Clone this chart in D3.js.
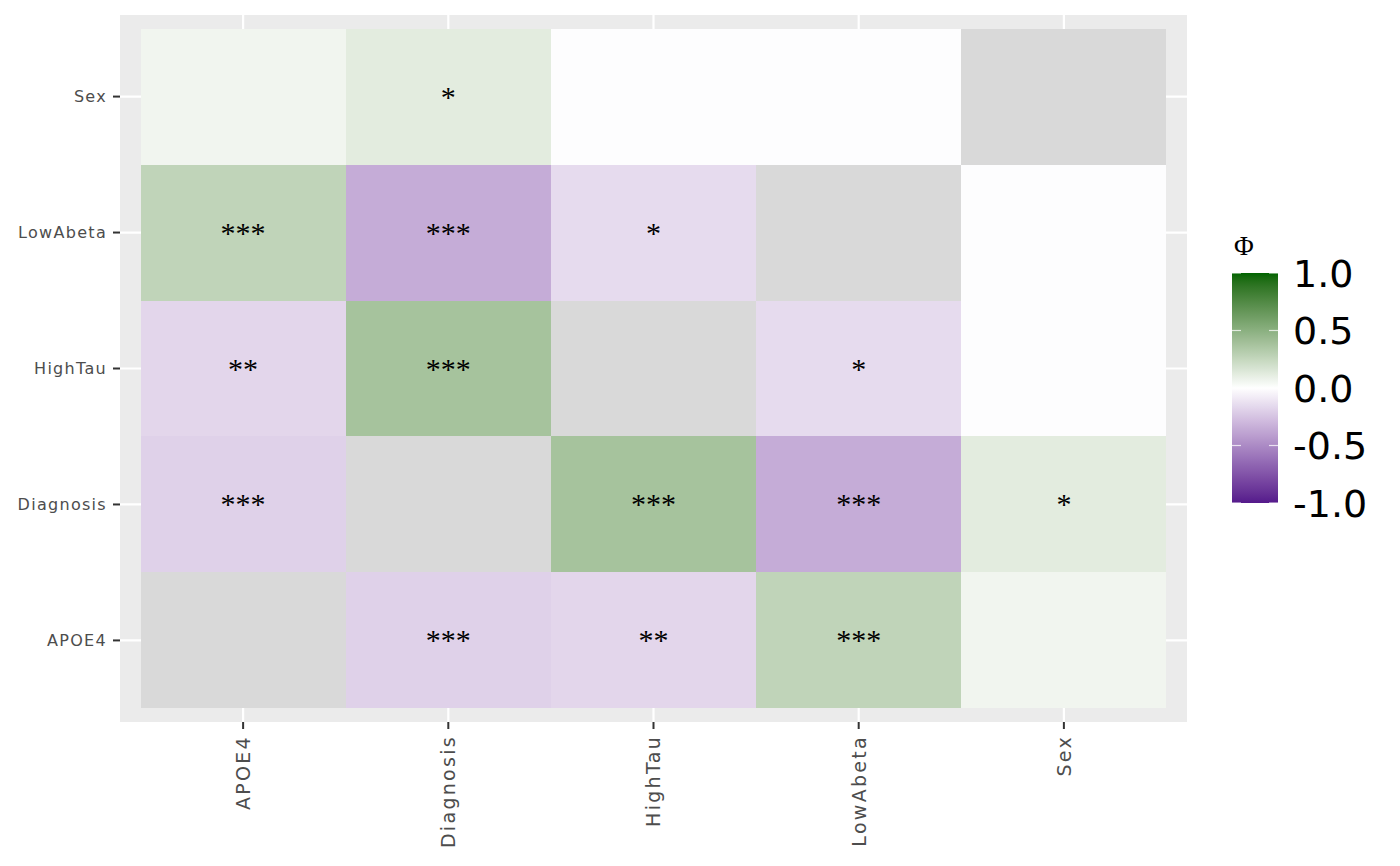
<!DOCTYPE html>
<html>
<head>
<meta charset="utf-8">
<script src="https://cdn.jsdelivr.net/npm/d3@7"></script>
<style>
  html, body { margin: 0; padding: 0; background: #ffffff; }
  svg { display: block; }
</style>
</head>
<body>
<svg id="chart" width="1400" height="866"></svg>
<script>
// ---- data ----
const variables = ["APOE4", "Diagnosis", "HighTau", "LowAbeta", "Sex"];
// phi coefficients, row = y variable, column = x variable (null on diagonal)
const phiAPOE4     = [null, -0.19, -0.17,  0.27,  0.06];
const phiDiagnosis = [-0.19, null,  0.38, -0.35,  0.12];
const phiHighTau   = [-0.17, 0.38,  null, -0.15, -0.01];
const phiLowAbeta  = [ 0.27, -0.35, -0.15, null, -0.01];
const phiSex       = [ 0.06,  0.12, -0.01, -0.01, null];
const sigAPOE4     = ["", "***", "**", "***", ""];
const sigDiagnosis = ["***", "", "***", "***", "*"];
const sigHighTau   = ["**", "***", "", "*", ""];
const sigLowAbeta  = ["***", "***", "*", "", ""];
const sigSex       = ["", "*", "", "", ""];
const legendTicks = [-1.0, -0.5, 0.0, 0.5, 1.0];
const legendTitle = "Φ";

const phiRows = { APOE4: phiAPOE4, Diagnosis: phiDiagnosis, HighTau: phiHighTau, LowAbeta: phiLowAbeta, Sex: phiSex };
const sigRows = { APOE4: sigAPOE4, Diagnosis: sigDiagnosis, HighTau: sigHighTau, LowAbeta: sigLowAbeta, Sex: sigSex };

const cells = [];
variables.forEach(yv => {
  variables.forEach((xv, j) => {
    cells.push({ x: xv, y: yv, value: phiRows[yv][j], sig: sigRows[yv][j] });
  });
});

// ---- layout ----
const svg = d3.select("#chart");
const panel = { left: 120, right: 1187, top: 15, bottom: 722 };

const x = d3.scaleBand().domain(variables)
  .range([panel.left, panel.right]).paddingInner(0).paddingOuter(0.1);
const y = d3.scaleBand().domain(variables.slice().reverse())
  .range([panel.top, panel.bottom]).paddingInner(0).paddingOuter(0.1);

const color = d3.scaleLinear().domain([-1, 0, 1])
  .range(["#551A8B", "#ffffff", "#006400"])
  .interpolate(d3.interpolateLab);
const naColor = "#D9D9D9";

// panel background
svg.append("rect")
  .attr("x", panel.left).attr("y", panel.top)
  .attr("width", panel.right - panel.left).attr("height", panel.bottom - panel.top)
  .attr("fill", "#EBEBEB");

// grid lines
const grid = svg.append("g");
variables.forEach(v => {
  const cx = x(v) + x.bandwidth() / 2;
  grid.append("line").attr("x1", cx).attr("x2", cx)
    .attr("y1", panel.top).attr("y2", panel.bottom)
    .attr("stroke", "#ffffff").attr("stroke-width", 2.2);
  const cy = y(v) + y.bandwidth() / 2;
  grid.append("line").attr("x1", panel.left).attr("x2", panel.right)
    .attr("y1", cy).attr("y2", cy)
    .attr("stroke", "#ffffff").attr("stroke-width", 2.2);
});

// tiles
svg.append("g").selectAll("rect").data(cells).join("rect")
  .attr("x", d => x(d.x)).attr("y", d => y(d.y))
  .attr("width", x.bandwidth()).attr("height", y.bandwidth())
  .attr("fill", d => d.value == null ? naColor : color(d.value))
  .attr("shape-rendering", "crispEdges");

// significance labels
svg.append("g").selectAll("text").data(cells.filter(d => d.sig)).join("text")
  .attr("x", d => x(d.x) + x.bandwidth() / 2)
  .attr("y", d => y(d.y) + y.bandwidth() / 2 + 10)
  .attr("text-anchor", "middle")
  .attr("font-family", "'Liberation Serif', 'DejaVu Serif', serif")
  .attr("font-size", 30)
  .attr("fill", "#000000")
  .text(d => d.sig);

// axes
const xAxisG = svg.append("g").attr("transform", `translate(0,${panel.bottom})`)
  .call(d3.axisBottom(x).tickSize(7).tickPadding(0));
xAxisG.select(".domain").remove();
xAxisG.selectAll(".tick line").attr("stroke", "#333333").attr("stroke-width", 2);
xAxisG.selectAll(".tick text")
  .attr("transform", "rotate(-90)")
  .attr("x", -13).attr("y", 0).attr("dy", "0.36em")
  .attr("text-anchor", "end")
  .attr("font-family", "'DejaVu Sans', sans-serif")
  .attr("font-size", 19)
  .attr("letter-spacing", "2.3px")
  .attr("fill", "#4D4D4D");

const yAxisG = svg.append("g").attr("transform", `translate(${panel.left},0)`)
  .call(d3.axisLeft(y).tickSize(7).tickPadding(0));
yAxisG.select(".domain").remove();
yAxisG.selectAll(".tick line").attr("stroke", "#333333").attr("stroke-width", 2);
yAxisG.selectAll(".tick text")
  .attr("x", -13).attr("dy", "0.35em")
  .attr("text-anchor", "end")
  .attr("font-family", "'DejaVu Sans', sans-serif")
  .attr("font-size", 16)
  .attr("letter-spacing", "1.3px")
  .attr("fill", "#4D4D4D");

// ---- legend ----
const bar = { x: 1232, y: 273, w: 46, h: 230 };
const ly = d3.scaleLinear().domain([-1, 1]).range([bar.y + bar.h, bar.y]);

const defs = svg.append("defs");
const grad = defs.append("linearGradient").attr("id", "phiGrad")
  .attr("x1", 0).attr("y1", 1).attr("x2", 0).attr("y2", 0);
d3.range(0, 1.0001, 0.02).forEach(t => {
  grad.append("stop").attr("offset", t).attr("stop-color", color(-1 + 2 * t));
});
svg.append("rect").attr("x", bar.x).attr("y", bar.y)
  .attr("width", bar.w).attr("height", bar.h).attr("fill", "url(#phiGrad)");

const lg = svg.append("g");
legendTicks.forEach(v => {
  const ty = ly(v);
  lg.append("line").attr("x1", bar.x).attr("x2", bar.x + 9).attr("y1", ty).attr("y2", ty)
    .attr("stroke", "#ffffff").attr("stroke-opacity", 0.75).attr("stroke-width", 1.2);
  lg.append("line").attr("x1", bar.x + bar.w - 9).attr("x2", bar.x + bar.w).attr("y1", ty).attr("y2", ty)
    .attr("stroke", "#ffffff").attr("stroke-opacity", 0.75).attr("stroke-width", 1.2);
  lg.append("text").attr("x", 1293).attr("y", ty).attr("dy", "0.36em")
    .attr("font-family", "'DejaVu Sans', sans-serif")
    .attr("font-size", 38).attr("fill", "#000000")
    .text(d3.format(".1f")(v).replace("−", "-"));
});
lg.append("text").attr("x", 1234).attr("y", 255)
  .attr("font-family", "'Liberation Serif', 'DejaVu Serif', serif")
  .attr("font-size", 27).attr("fill", "#000000")
  .text(legendTitle);
</script>
</body>
</html>
